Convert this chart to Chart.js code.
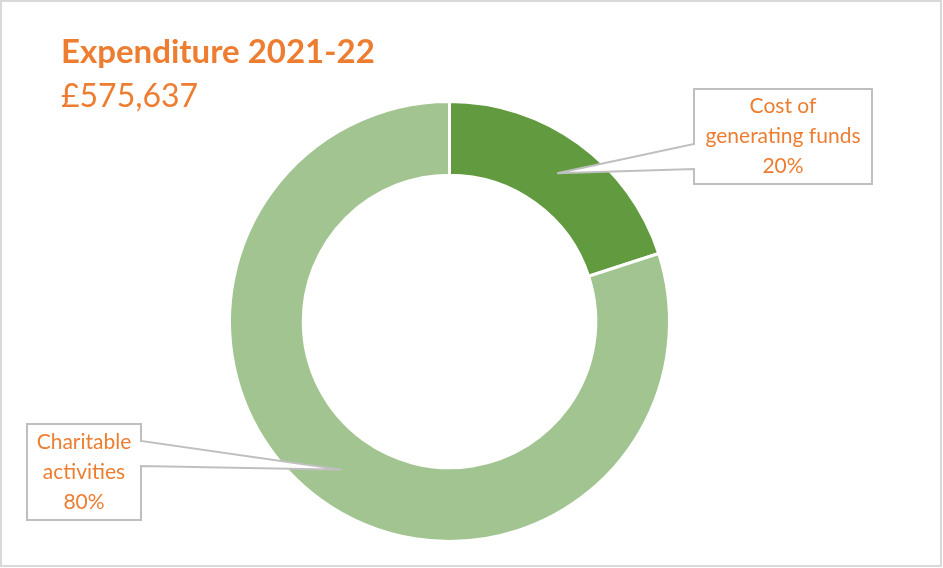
<!DOCTYPE html>
<html>
<head>
<meta charset="utf-8">
<script src="https://cdn.jsdelivr.net/npm/chart.js@4.4.0/dist/chart.umd.min.js"></script>
<style>
  html, body { margin: 0; padding: 0; background: #fff; }
  #wrap { width: 943px; height: 568px; position: relative; }
</style>
</head>
<body>
<div id="wrap"><canvas id="chart"></canvas></div>
<script>
// data
const categories = ['Cost of generating funds', 'Charitable activities'];
const shares = [20, 80];
const calloutLines = [
    ['Cost of', 'generating funds', '20%'],
    ['Charitable', 'activities', '80%']
];
const titleText = 'Expenditure 2021-22';
const totalText = '£575,637';

const colors = ['#629b3f', '#a1c490'];
const orange = '#ed7d31';
const fontFamily = 'Lato, "Open Sans", sans-serif';

// callout boxes (x, y, w, h) and where the pointer leaves the box
const boxes = [
    { x: 694, y: 89, w: 178, h: 95, side: 'left', y1: 144, y2: 169 },
    { x: 27, y: 424, w: 114, h: 96, side: 'right', y1: 441, y2: 466 }
];

const decorations = {
    id: 'decorations',
    beforeDraw(chart) {
        const ctx = chart.ctx;
        ctx.save();
        ctx.fillStyle = '#fff';
        ctx.fillRect(0, 0, chart.width, chart.height);
        ctx.strokeStyle = '#d9d9d9';
        ctx.lineWidth = 2;
        ctx.strokeRect(1, 1, chart.width - 3, chart.height - 3);

        ctx.fillStyle = orange;
        ctx.textBaseline = 'alphabetic';
        ctx.font = 'bold 33px ' + fontFamily;
        ctx.fillText(titleText, 61, 63);
        ctx.font = '32px ' + fontFamily;
        ctx.fillText(totalText, 61, 107);
        ctx.restore();
    },
    afterDatasetsDraw(chart) {
        const ctx = chart.ctx;
        const arcs = chart.getDatasetMeta(0).data;
        ctx.save();
        arcs.forEach((arc, i) => {
            const b = boxes[i];
            const tip = arc.tooltipPosition();
            ctx.beginPath();
            if (b.side === 'left') {
                ctx.moveTo(b.x, b.y);
                ctx.lineTo(b.x + b.w, b.y);
                ctx.lineTo(b.x + b.w, b.y + b.h);
                ctx.lineTo(b.x, b.y + b.h);
                ctx.lineTo(b.x, b.y2);
                ctx.lineTo(tip.x, tip.y);
                ctx.lineTo(b.x, b.y1);
            } else {
                ctx.moveTo(b.x, b.y);
                ctx.lineTo(b.x + b.w, b.y);
                ctx.lineTo(b.x + b.w, b.y1);
                ctx.lineTo(tip.x, tip.y);
                ctx.lineTo(b.x + b.w, b.y2);
                ctx.lineTo(b.x + b.w, b.y + b.h);
                ctx.lineTo(b.x, b.y + b.h);
            }
            ctx.closePath();
            ctx.fillStyle = '#fff';
            ctx.fill();
            ctx.strokeStyle = '#bfbfbf';
            ctx.lineWidth = 2;
            ctx.stroke();

            ctx.fillStyle = orange;
            ctx.font = '21px ' + fontFamily;
            ctx.textAlign = 'center';
            ctx.textBaseline = 'middle';
            const lines = calloutLines[i];
            const cx = b.x + b.w / 2;
            const cy = b.y + b.h / 2;
            lines.forEach((t, k) => {
                ctx.fillText(t, cx, cy + (k - (lines.length - 1) / 2) * 30);
            });
        });
        ctx.restore();
    }
};

new Chart(document.getElementById('chart'), {
    type: 'doughnut',
    data: {
        labels: categories,
        datasets: [{
            data: shares,
            backgroundColor: colors,
            borderColor: '#fff',
            borderWidth: 3,
            hoverOffset: 0
        }]
    },
    options: {
        responsive: true,
        maintainAspectRatio: false,
        animation: false,
        cutout: '66.5%',
        layout: { padding: { top: 100, bottom: 25, left: 228, right: 272 } },
        plugins: {
            legend: { display: false },
            tooltip: { enabled: false }
        }
    },
    plugins: [decorations]
});
</script>
</body>
</html>
